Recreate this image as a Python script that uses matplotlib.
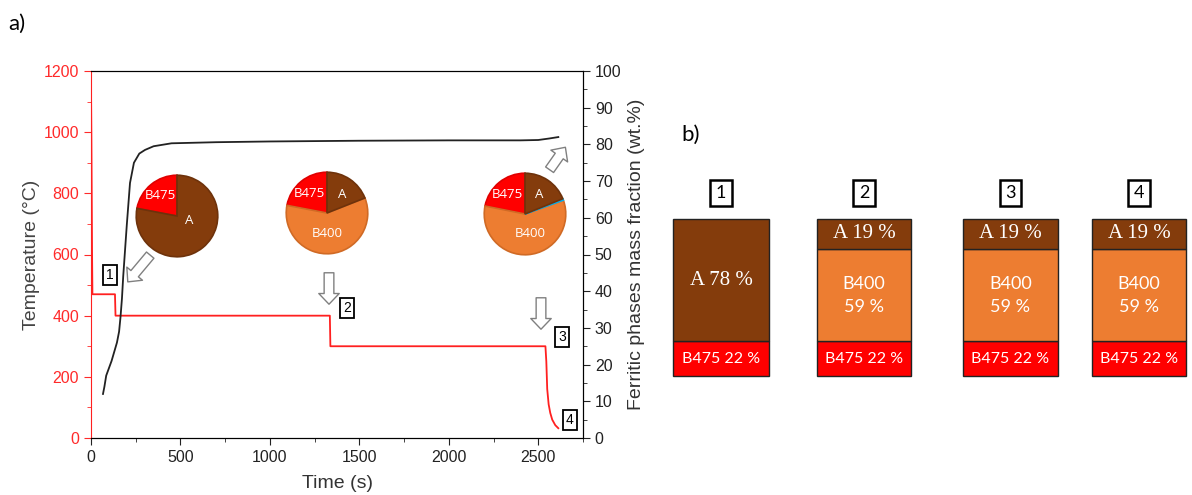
import matplotlib
matplotlib.use('Agg')
import matplotlib.pyplot as plt
from matplotlib.patches import FancyArrowPatch
from matplotlib.ticker import MultipleLocator

plt.rcParams['font.family'] = ['Liberation Sans', 'DejaVu Sans']

# temperature programme: time (s), temperature (degC)
time_temp = [0, 2, 4, 6, 8, 134, 137, 1335, 1338, 2540, 2545, 2550, 2558, 2567, 2578, 2595, 2612]
temp = [1150, 1000, 800, 600, 470, 470, 400, 400, 300, 300, 250, 160, 110, 82, 60, 42, 32]

# ferritic phases mass fraction: time (s), wt.%
time_frac = [67, 75, 85, 100, 115, 130, 145, 157, 165, 173, 180, 190, 200, 218, 240, 270,
             302, 350, 450, 700, 1000, 1500, 2000, 2400, 2500, 2560, 2612]
frac = [12, 14, 17, 19, 21, 23.5, 26, 29, 33, 38, 44, 51, 58, 69.5, 75, 77.5,
        78.5, 79.5, 80.3, 80.6, 80.8, 81.0, 81.1, 81.1, 81.2, 81.6, 82]

# pie charts (wt.% of ferrite)
pie_names = [['B475', 'A'], ['B475', 'B400', 'A'], ['B475', 'B400', 'other', 'A']]
pie_values = [[22, 78], [22, 59, 19], [22, 59, 0.6, 19]]

# stacked bars for stages 1-4
stages = ['1', '2', '3', '4']
frac_B475 = [22, 22, 22, 22]
frac_B400 = [0, 59, 59, 59]
frac_A = [78, 19, 19, 19]

colors = {'A': '#843C0C', 'B400': '#ED7D31', 'B475': '#FF0000', 'other': '#00B0F0'}
edges = {'A': '#6e320b', 'B400': '#d06a25', 'B475': '#e00000', 'other': '#00B0F0'}

W, H = 1192, 495
fig = plt.figure(figsize=(W / 100, H / 100), dpi=100)


def px_rect(x0, y0, x1, y1):
    return [x0 / W, 1 - y1 / H, (x1 - x0) / W, (y1 - y0) / H]


def px(x, y):
    return (x / W, 1 - y / H)


# ---- a) temperature / fraction plot
ax = fig.add_axes(px_rect(91, 71, 583, 438))
ax.plot(time_temp, temp, color='#ff2020', lw=1.3)
ax.set_xlim(0, 2750)
ax.set_ylim(0, 1200)
ax.xaxis.set_major_locator(MultipleLocator(500))
ax.xaxis.set_minor_locator(MultipleLocator(250))
ax.yaxis.set_major_locator(MultipleLocator(200))
ax.yaxis.set_minor_locator(MultipleLocator(100))
ax.tick_params(axis='y', which='both', colors='#ff2a2a', labelsize=11.5, direction='out')
ax.tick_params(axis='x', which='both', colors='#222222', labelsize=11.5, direction='out')
ax.tick_params(which='major', length=5)
ax.tick_params(which='minor', length=3)
ax.spines['left'].set_color('#ff2020')
ax.set_xlabel('Time (s)', fontsize=14, color='#333333', labelpad=7)
ax.set_ylabel('Temperature (°C)', fontsize=14, color='#444444', labelpad=3)

ax2 = ax.twinx()
ax2.plot(time_frac, frac, color='#222222', lw=1.3)
ax2.set_ylim(0, 100)
ax2.yaxis.set_major_locator(MultipleLocator(10))
ax2.yaxis.set_minor_locator(MultipleLocator(5))
ax2.tick_params(axis='y', which='both', colors='#222222', labelsize=11.5, direction='out')
ax2.tick_params(which='major', length=5)
ax2.tick_params(which='minor', length=3)
ax2.spines['left'].set_visible(False)
ax2.set_ylabel('Ferritic phases mass fraction (wt.%)', fontsize=14, color='#333333', labelpad=5)

# pies
R = 42
pie_centers = [(177, 216), (327, 213), (525, 214)]
pie_text = [
    [('B475', -0.4, 0.5), ('A', 0.3, -0.12)],
    [('B475', -0.44, 0.48), ('A', 0.38, 0.45), ('B400', 0.0, -0.5)],
    [('B475', -0.43, 0.48), ('A', 0.36, 0.48), ('B400', 0.12, -0.49)],
]
for (cx, cy), vals, names, texts in zip(pie_centers, pie_values, pie_names, pie_text):
    pax = fig.add_axes(px_rect(cx - R, cy - R, cx + R, cy + R))
    wedges, _ = pax.pie(vals, colors=[colors[n] for n in names], startangle=90,
                        wedgeprops=dict(linewidth=1.2))
    for w, n in zip(wedges, names):
        w.set_edgecolor(edges[n])
    for s, tx, ty in texts:
        pax.text(tx, ty, s, color='white', fontsize=9.5, ha='center', va='center',
                 family=['Open Sans', 'DejaVu Sans'])
    pax.set_xlim(-1.03, 1.03)
    pax.set_ylim(-1.03, 1.03)
    pax.axis('off')

# hollow arrows
arrows = [((152, 253), (126, 284)), ((329, 270), (329, 307)),
          ((541, 295), (541, 332)), ((548, 172), (567, 145))]
for (x0, y0), (x1, y1) in arrows:
    fig.patches.append(FancyArrowPatch(
        px(x0, y0), px(x1, y1), transform=fig.transFigure,
        arrowstyle='simple,tail_width=0.5,head_width=1.05,head_length=0.55',
        mutation_scale=14, fc='white', ec='#808080', lw=1))

# stage markers in plot a)
for s, (x, y) in zip(stages, [(110, 275), (347, 308), (562, 337), (570, 420)]):
    fig.text(*px(x, y), s, fontsize=10, ha='center', va='center',
             bbox=dict(boxstyle='square,pad=0.25', fc='white', ec='black', lw=1.3))

fig.text(*px(8, 24), 'a)', fontsize=16, ha='left', va='center', family=['Lato', 'DejaVu Sans'])
fig.text(*px(681, 135), 'b)', fontsize=16, ha='left', va='center', family=['Lato', 'DejaVu Sans'])

# ---- b) stacked bars
bar_spans = [(673, 769), (817, 911), (963, 1058), (1092, 1186)]
for i, (x0, x1) in enumerate(bar_spans):
    bax = fig.add_axes(px_rect(x0, 219, x1, 376))
    bottom = 0
    for name, vals in (('B475', frac_B475), ('B400', frac_B400), ('A', frac_A)):
        v = vals[i]
        if v == 0:
            continue
        bax.bar(0, v, width=1, bottom=bottom, color=colors[name], edgecolor='#222222',
                linewidth=1, clip_on=False)
        mid = bottom + v / 2
        if name == 'A':
            bax.text(0, mid, f'A {v} %', color='white', fontsize=15, ha='center', va='center',
                     family=['Liberation Serif', 'DejaVu Serif'])
        elif name == 'B400':
            bax.text(0, mid, f'B400\n{v} %', color='white', fontsize=13, ha='center', va='center',
                     linespacing=1.55, family=['Lato', 'DejaVu Sans'])
        else:
            bax.text(0, mid, f'B475 {v} %', color='white', fontsize=11.5, ha='center', va='center',
                     family=['Lato', 'DejaVu Sans'])
        bottom += v
    bax.set_xlim(-0.5, 0.5)
    bax.set_ylim(0, 100)
    bax.axis('off')
    fig.text(*px((x0 + x1) / 2, 193), stages[i], fontsize=13, ha='center', va='center',
             family=['Lato', 'DejaVu Sans'],
             bbox=dict(boxstyle='square,pad=0.3', fc='white', ec='black', lw=1.8))

fig.savefig('out.png', dpi=100)
